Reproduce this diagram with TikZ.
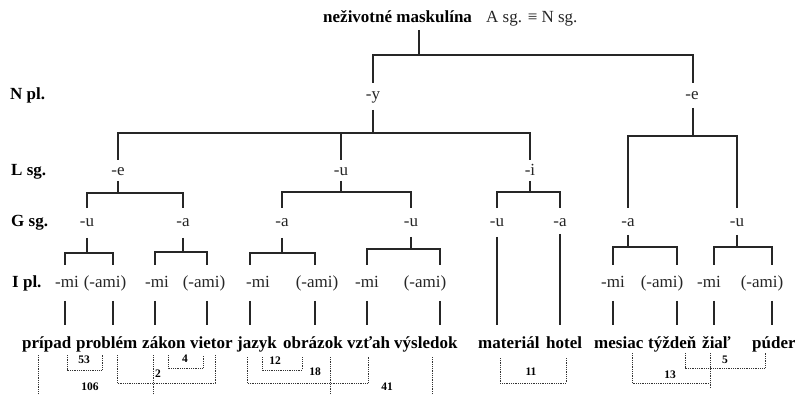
\documentclass[tikz,border=0pt]{standalone}
\usepackage{fontspec}
\setmainfont{Liberation Serif}
\begin{document}
\begin{tikzpicture}[x=1pt,y=-1pt,
 tl/.style={line width=1.2pt, draw=black!85},
 dl/.style={line width=0.8pt, densely dotted, draw=black!80},
 lvl/.style={font=\fontsize{17}{20}\selectfont\bfseries, anchor=base west, inner sep=0pt},
 suf/.style={font=\fontsize{17}{20}\selectfont, anchor=base, inner sep=0pt, text=black!85},
 word/.style={font=\fontsize{17}{20}\selectfont\bfseries, anchor=base west, inner sep=0pt},
 num/.style={font=\fontsize{11.5}{13}\selectfont\bfseries, anchor=base, inner sep=0pt}]
\useasboundingbox[fill=white] (0,0) rectangle (795,395);
% title
\node[word] (title) at (323,23) {neživotné maskulína};
\node[suf, anchor=base west] (asg) at (486,23) {A sg. ≡ N sg.};
% level labels
\node[lvl] (Npl) at (10,100) {N pl.};
\node[lvl] (Lsg) at (11,176) {L sg.};
\node[lvl] (Gsg) at (11,227) {G sg.};
\node[lvl] (Ipl) at (12,288) {I pl.};
% N pl.
\node[suf] (ny) at (373,100) {-y};
\node[suf] (ne) at (692,100) {-e};
% L sg.
\node[suf] (le) at (118,176) {-e};
\node[suf] (lu) at (341,176) {-u};
\node[suf] (li) at (530,176) {-i};
% G sg.
\node[suf] (g1) at (87,227) {-u};
\node[suf] (g2) at (183,227) {-a};
\node[suf] (g3) at (282,227) {-a};
\node[suf] (g4) at (411,227) {-u};
\node[suf] (g5) at (497,227) {-u};
\node[suf] (g6) at (560,227) {-a};
\node[suf] (g7) at (628,227) {-a};
\node[suf] (g8) at (737,227) {-u};
% I pl.
\node[suf] (i1) at (67,288) {-mi};
\node[suf] (i2) at (105,288) {(-ami)};
\node[suf] (i3) at (157,288) {-mi};
\node[suf] (i4) at (204,288) {(-ami)};
\node[suf] (i5) at (258,288) {-mi};
\node[suf] (i6) at (317,288) {(-ami)};
\node[suf] (i7) at (367,288) {-mi};
\node[suf] (i8) at (425,288) {(-ami)};
\node[suf] (i9) at (613,288) {-mi};
\node[suf] (i10) at (662,288) {(-ami)};
\node[suf] (i11) at (709,288) {-mi};
\node[suf] (i12) at (762,288) {(-ami)};
% words
\node[word] (w1) at (22,348) {prípad};
\node[word] (w2) at (76,348) {problém};
\node[word] (w3) at (142,348) {zákon};
\node[word] (w4) at (190,348) {vietor};
\node[word] (w5) at (237,348) {jazyk};
\node[word] (w6) at (283,348) {obrázok};
\node[word] (w7) at (347,348) {vzťah};
\node[word] (w8) at (394,348) {výsledok};
\node[word] (w9) at (478,348) {materiál};
\node[word] (w10) at (546,348) {hotel};
\node[word] (w11) at (594,348) {mesiac};
\node[word] (w12) at (648,348) {týždeň};
\node[word] (w13) at (702,348) {žiaľ};
\node[word] (w14) at (752,348) {púder};
% tree lines
\draw[tl] (419,30) -- (419,55);
\draw[tl] (373,83) -- (373,55) -- (693,55) -- (693,83);
\draw[tl] (373,110) -- (373,133);
\draw[tl] (118,160) -- (118,133) -- (530,133) -- (530,160);
\draw[tl] (341,133) -- (341,160);
\draw[tl] (693,108) -- (693,136);
\draw[tl] (628,208) -- (628,136) -- (737,136) -- (737,208);
\draw[tl] (118,181) -- (118,193);
\draw[tl] (87,208) -- (87,193) -- (183,193) -- (183,208);
\draw[tl] (341,181) -- (341,192);
\draw[tl] (282,208) -- (282,192) -- (411,192) -- (411,208);
\draw[tl] (530,181) -- (530,192);
\draw[tl] (497,208) -- (497,192) -- (560,192) -- (560,208);
\draw[tl] (87,238) -- (87,253);
\draw[tl] (65,265) -- (65,253) -- (113,253) -- (113,265);
\draw[tl] (183,238) -- (183,252);
\draw[tl] (155,265) -- (155,252) -- (207,252) -- (207,265);
\draw[tl] (282,238) -- (282,253);
\draw[tl] (250,265) -- (250,253) -- (315,253) -- (315,265);
\draw[tl] (411,237) -- (411,249);
\draw[tl] (367,265) -- (367,249) -- (440,249) -- (440,265);
\draw[tl] (497,237) -- (497,325);
\draw[tl] (560,234) -- (560,325);
\draw[tl] (628,235) -- (628,247);
\draw[tl] (613,265) -- (613,247) -- (677,247) -- (677,265);
\draw[tl] (737,235) -- (737,247);
\draw[tl] (714,265) -- (714,247) -- (772,247) -- (772,265);
\foreach \x in {65,113,155,207,250,315,367,440,613,677,714,772}
  \draw[tl] (\x,301) -- (\x,325);
% dotted brackets
\draw[dl] (38,355) -- (38,395);
\draw[dl] (153,355) -- (153,395);
\draw[dl] (67,355) -- (67,370) -- (102,370) -- (102,355);
\draw[dl] (117,355) -- (117,383) -- (215,383) -- (215,355);
\draw[dl] (168,355) -- (168,368) -- (203,368) -- (203,355);
\draw[dl] (262,357) -- (262,370) -- (302,370) -- (302,357);
\draw[dl] (247,357) -- (247,383) -- (368,383) -- (368,357);
\draw[dl] (330,357) -- (330,395);
\draw[dl] (432,357) -- (432,395);
\draw[dl] (500,358) -- (500,383) -- (566,383) -- (566,358);
\draw[dl] (632,353) -- (632,383) -- (710,383);
\draw[dl] (710,353) -- (710,388);
\draw[dl] (685,353) -- (685,368) -- (765,368) -- (765,353);
% numbers
\node[num] (n53) at (84,363) {53};
\node[num] (n106) at (90,390) {106};
\node[num] (n2) at (158,377) {2};
\node[num] (n4) at (185,362) {4};
\node[num] (n12) at (275,364) {12};
\node[num] (n18) at (315,375) {18};
\node[num] (n41) at (387,390) {41};
\node[num] (n11) at (531,375) {11};
\node[num] (n5) at (725,363) {5};
\node[num] (n13) at (670,378) {13};
\end{tikzpicture}
\end{document}
